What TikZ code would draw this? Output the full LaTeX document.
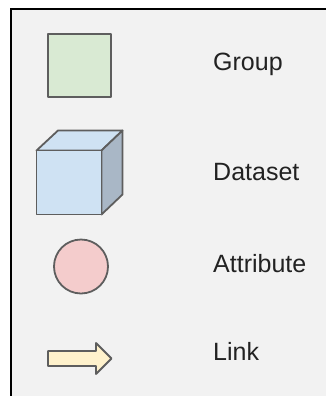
\documentclass[tikz,border=0pt]{standalone}
\usepackage{fontspec}
\setmainfont{Liberation Sans}
\definecolor{panel}{HTML}{F2F2F2}
\definecolor{edge}{HTML}{5E5E5E}
\definecolor{groupfill}{HTML}{D9EAD3}
\definecolor{cubefront}{HTML}{CFE2F3}
\definecolor{cubeside}{HTML}{A9B7C6}
\definecolor{attrfill}{HTML}{F4CCCC}
\definecolor{linkfill}{HTML}{FFF2CC}
\definecolor{ink}{HTML}{222222}
\begin{document}
\begin{tikzpicture}[x=1bp,y=-1bp,
  shapeline/.style={draw=edge,line width=1.8bp,line join=round},
  legendtext/.style={anchor=base west,inner sep=0pt,text=ink,font=\fontsize{25bp}{30bp}\selectfont}]
\useasboundingbox (0,0) rectangle (326,396);
\clip (0,0) rectangle (326,396);
\fill[white] (0,0) rectangle (326,396);
% legend panel, running off the right and bottom edges
\draw[fill=panel,line width=2.5bp] (11,9) rectangle (340,410);

% Group: plain square
\node[shapeline,fill=groupfill,rectangle,minimum size=63bp,inner sep=0pt] (group) at (79.5,65.5) {};

% Dataset: cube
\coordinate (c1) at (36.5,150.5);
\coordinate (c2) at (101.5,150.5);
\coordinate (c3) at (101.5,214.5);
\coordinate (c4) at (36.5,214.5);
\coordinate (b1) at (58,130.5);
\coordinate (b2) at (122.5,130.5);
\coordinate (b3) at (122.5,194.5);
\draw[shapeline,fill=cubefront] (c1) -- (b1) -- (b2) -- (c2) -- cycle;
\draw[shapeline,fill=cubeside] (c2) -- (b2) -- (b3) -- (c3) -- cycle;
\draw[shapeline,fill=cubefront] (c1) -- (c2) -- (c3) -- (c4) -- cycle;

% Attribute: circle
\node[shapeline,fill=attrfill,circle,minimum size=54bp,inner sep=0pt] (attr) at (81,266.5) {};

% Link: block arrow
\draw[shapeline,fill=linkfill] (48,351) -- (96,351) -- (96,343) -- (111.5,358.5)
  -- (96,374) -- (96,366) -- (48,366) -- cycle;

% labels
\node[legendtext] (tgroup) at (213,70) {Group};
\node[legendtext] (tdata) at (213,180) {Dataset};
\node[legendtext] (tattr) at (213,272.5) {Attribute};
\node[legendtext] (tlink) at (213,360) {Link};
\end{tikzpicture}
\end{document}
